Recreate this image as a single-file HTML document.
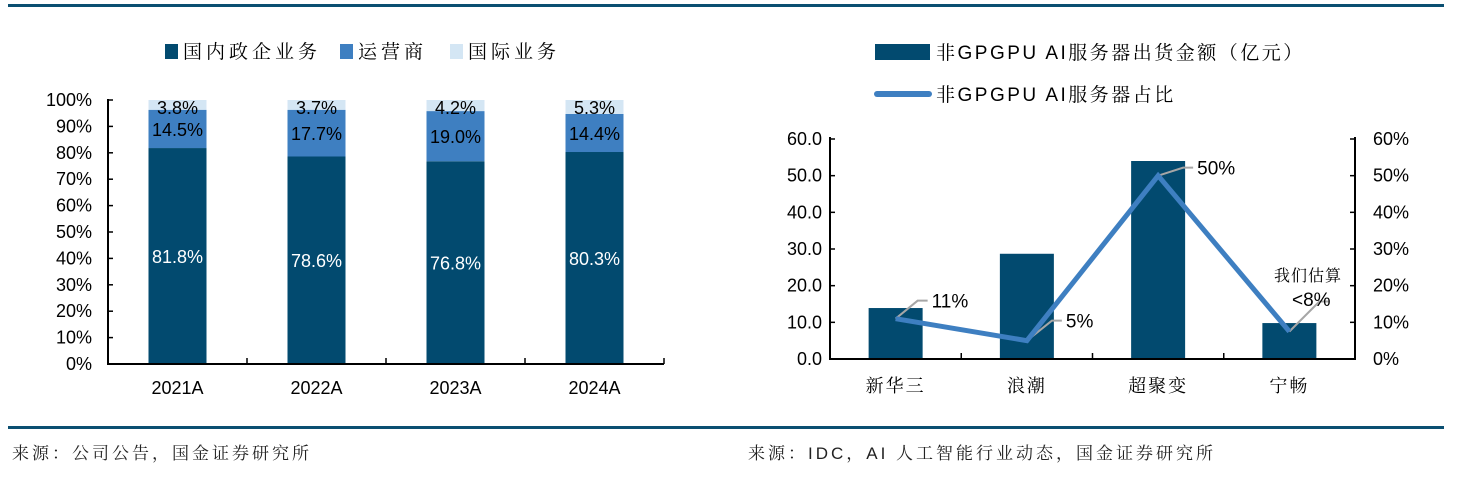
<!DOCTYPE html>
<html><head><meta charset="utf-8"><style>
body{margin:0;width:1474px;height:480px;background:#fff;overflow:hidden}
svg{display:block;font-family:"Liberation Sans","Noto Sans CJK SC",sans-serif}
.cj{font-family:"Liberation Sans","Noto Serif CJK SC","Noto Sans CJK SC",serif}
</style></head><body>
<svg id="s" width="1474" height="480" xmlns="http://www.w3.org/2000/svg">
<rect x="8" y="4" width="1436" height="3" fill="#0b4f71"/>
<rect x="8" y="426" width="1436" height="3" fill="#0b4f71"/>
<text class="cj" x="12" y="459" font-size="17" fill="#222" letter-spacing="3">来源：公司公告，国金证券研究所</text>
<text class="cj" x="748" y="459" font-size="17" fill="#222" letter-spacing="3">来源：IDC，AI 人工智能行业动态，国金证券研究所</text>
<g id="left"></g>
<g id="right"></g>
</svg>
<script>
const NS="http://www.w3.org/2000/svg";
function mk(p,t,a,txt){const e=document.createElementNS(NS,t);for(const k in a)e.setAttribute(k,a[k]);if(txt!==undefined)e.textContent=txt;p.appendChild(e);return e;}

// Left chart data
const years=["2021A","2022A","2023A","2024A"];
const domestic=[81.8,78.6,76.8,80.3];
const carrier=[14.5,17.7,19.0,14.4];
const intl=[3.8,3.7,4.2,5.3];
const pctTicks=[0,10,20,30,40,50,60,70,80,90,100];

const L=document.getElementById('left');
const lx0=108,lx1=664,ly0=364,ly1=100;
const ly=v=>ly0-(v/100)*(ly0-ly1);
const lcw=(lx1-lx0)/years.length;
const lcx=i=>lx0+lcw*(i+0.5);
pctTicks.forEach(t=>{
  const tl=mk(L,'text',{x:lx0-16,y:ly(t)+6,'text-anchor':'end','font-size':18,fill:'#000'},t+'%');
  
  
  const tk=mk(L,'line',{x1:lx0,x2:lx0+5,y1:ly(t),y2:ly(t),stroke:'#000','stroke-width':1.5});
  
  
});
years.forEach((y,i)=>{
  const cx=lcx(i),w=58;
  const segs=[[0,domestic[i],'#024a6f','#fff'],[domestic[i],carrier[i],'#3e7fc1','#000'],[domestic[i]+carrier[i],intl[i],'#d4e6f4','#000']];
  segs.forEach((s,j)=>{
    const top=Math.min(100,s[0]+s[1]);
    const r=mk(L,'rect',{x:cx-w/2,y:ly(top),width:w,height:ly(s[0])-ly(top),fill:s[2]});
    
    
    const ty=j==2?ly(top)+14:(ly(s[0])+ly(top))/2+7;
    const t=mk(L,'text',{x:cx,y:ty,'text-anchor':'middle','font-size':18,fill:s[3]},s[1].toFixed(1)+'%');
    
    
  });
  const xl=mk(L,'text',{x:cx,y:394,'text-anchor':'middle','font-size':18,fill:'#000'},y);
  
  
  const xt=mk(L,'line',{x1:lx0+lcw*(i+1),x2:lx0+lcw*(i+1),y1:ly0,y2:ly0-6,stroke:'#000','stroke-width':1.5});
  
  
});
const la=mk(L,'path',{d:`M${lx0} ${ly1-1}V${ly0}H${lx1}`,fill:'none',stroke:'#000','stroke-width':2});


const legL=[['国内政企业务','#024a6f',165],['运营商','#3e7fc1',340],['国际业务','#d4e6f4',450]];
legL.forEach(l=>{
  const g=mk(L,'g',{});
  
  
  mk(g,'rect',{x:l[2],y:44,width:13,height:15,fill:l[1]});
  mk(g,'text',{class:'cj',x:l[2]+18,y:58,'font-size':19,fill:'#000','letter-spacing':4},l[0]);
});

// Right chart data
const vendors=["新华三","浪潮","超聚变","宁畅"];
const shipments=[13.9,28.7,54,9.8];
const shares=[11,5,50,7.5];
const shareLabels=["11%","5%","50%","<8%"];
const leftTicks=[0,10,20,30,40,50,60];
const rightTicks=[0,10,20,30,40,50,60];

const R=document.getElementById('right');
const rx0=830,rx1=1355,ry0=359,ry1=139;
const ryL=v=>ry0-v/60*(ry0-ry1);
const ryR=v=>ry0-v/60*(ry0-ry1);
const rcw=(rx1-rx0)/vendors.length;
const rcx=i=>rx0+rcw*(i+0.5);
leftTicks.forEach(t=>{
  const a=mk(R,'text',{x:rx0-8,y:ryL(t)+6,'text-anchor':'end','font-size':18,fill:'#000'},t.toFixed(1));
  
  
  const k=mk(R,'line',{x1:rx0,x2:rx0+5,y1:ryL(t),y2:ryL(t),stroke:'#000','stroke-width':1.5});
  
  
});
rightTicks.forEach(t=>{
  const a=mk(R,'text',{x:1373,y:ryR(t)+6,'font-size':18,fill:'#000'},t+'%');
  
  
  const k=mk(R,'line',{x1:rx1-5,x2:rx1,y1:ryR(t),y2:ryR(t),stroke:'#000','stroke-width':1.5});
  
  
});
vendors.forEach((v,i)=>{
  const cx=rcx(i),w=54;
  const b=mk(R,'rect',{x:cx-w/2,y:ryL(shipments[i]),width:w,height:ry0-ryL(shipments[i]),fill:'#024a6f'});
  
  
  const xl=mk(R,'text',{class:'cj',x:cx,y:392,'text-anchor':'middle','font-size':18,fill:'#000','letter-spacing':2},v);
  
  
  if(i<vendors.length-1){
    const xt=mk(R,'line',{x1:rx0+rcw*(i+1),x2:rx0+rcw*(i+1),y1:ry0,y2:ry0-6,stroke:'#000','stroke-width':1.5});
    
    
  }
});
const ra=mk(R,'path',{d:`M${rx0} ${ry1-2}V${ry0}H${rx1}V${ry1-2}`,fill:'none',stroke:'#000','stroke-width':2});


const offs=[[22,-18],[25,-20],[25,-8],[30,-30]];
shares.forEach((s,i)=>{
  const px=rcx(i),py=ryR(s);
  const o=offs[i];
  const ll=mk(R,'path',{d:`M${px} ${py}L${px+o[0]} ${py+o[1]}H${px+o[0]+10}`,fill:'none',stroke:'#a6a6a6','stroke-width':2});
  
  
  if(i<3){
    const t=mk(R,'text',{x:px+o[0]+14,y:py+o[1]+7,'font-size':19,fill:'#000'},shareLabels[i]);
    
    
  }else{
    const t1=mk(R,'text',{class:'cj',x:1274,y:281,'font-size':16,fill:'#000','letter-spacing':1},'我们估算');
    
    
    const t2=mk(R,'text',{x:1292,y:306,'font-size':19,fill:'#000'},shareLabels[i]);
    
    
  }
});
const line=mk(R,'polyline',{points:shares.map((s,i)=>rcx(i)+','+ryR(s)).join(' '),fill:'none',stroke:'#3e7fc1','stroke-width':5,'stroke-linejoin':'miter'});


const g1=mk(R,'g',{});


mk(g1,'rect',{x:875,y:44,width:55,height:16,fill:'#024a6f'});
mk(g1,'text',{class:'cj',x:936,y:59,'font-size':19,fill:'#000','letter-spacing':2.5},'非GPGPU  AI服务器出货金额（亿元）');
const g2=mk(R,'g',{});


mk(g2,'line',{x1:877,x2:929,y1:94,y2:94,stroke:'#3e7fc1','stroke-width':6,'stroke-linecap':'round'});
mk(g2,'text',{class:'cj',x:936,y:101,'font-size':19,fill:'#000','letter-spacing':2.5},'非GPGPU  AI服务器占比');
</script>
</body></html>
